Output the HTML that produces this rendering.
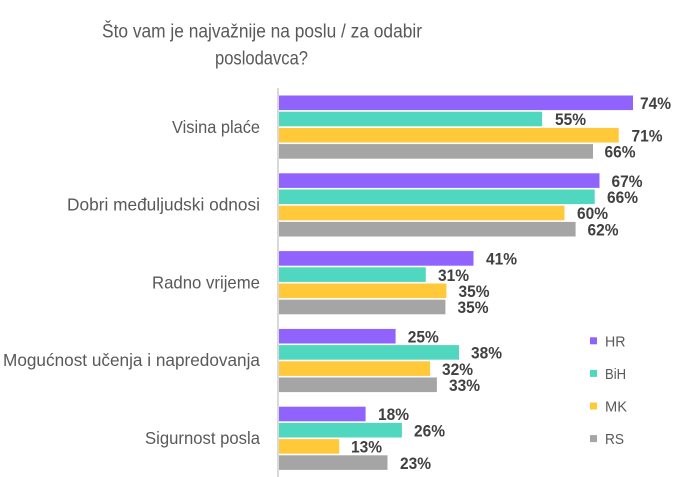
<!DOCTYPE html>
<html>
<head>
<meta charset="utf-8">
<style>
html,body{margin:0;padding:0;background:#fff;}
svg{display:block;}
text{font-family:"Liberation Sans",sans-serif;}
</style>
</head>
<body>
<svg width="677" height="477" viewBox="0 0 677 477" xmlns="http://www.w3.org/2000/svg">
<rect x="0" y="0" width="677" height="477" fill="#fff"/>
<!-- Title -->
<text x="102" y="37.5" font-size="19" fill="#595959" textLength="320" lengthAdjust="spacingAndGlyphs">Što vam je najvažnije na poslu / za odabir</text>
<text x="215" y="64.5" font-size="19" fill="#595959" textLength="93" lengthAdjust="spacingAndGlyphs">poslodavca?</text>

<!-- Axis -->
<rect x="277" y="88" width="2" height="389" fill="#d9d9d9"/>

<!-- Category labels -->
<g font-size="17.5" fill="#595959">
<text x="172" y="132.8" textLength="88" lengthAdjust="spacingAndGlyphs">Visina plaće</text>
<text x="67" y="210.6" textLength="193" lengthAdjust="spacingAndGlyphs">Dobri međuljudski odnosi</text>
<text x="152" y="288.4" textLength="108" lengthAdjust="spacingAndGlyphs">Radno vrijeme</text>
<text x="3" y="366" textLength="257" lengthAdjust="spacingAndGlyphs">Mogućnost učenja i napredovanja</text>
<text x="145" y="444" textLength="115" lengthAdjust="spacingAndGlyphs">Sigurnost posla</text>
</g>

<!-- Bars -->
<g>
<rect x="279" y="95.5" width="354.0" height="14.6" fill="#8f63fc"/>
<rect x="279" y="111.7" width="263.1" height="14.6" fill="#4fd8bf"/>
<rect x="279" y="127.9" width="339.7" height="14.6" fill="#ffc93a"/>
<rect x="279" y="144.1" width="314.0" height="14.6" fill="#a5a5a5"/>

<rect x="279" y="173.3" width="320.5" height="14.6" fill="#8f63fc"/>
<rect x="279" y="189.5" width="315.7" height="14.6" fill="#4fd8bf"/>
<rect x="279" y="205.7" width="285.5" height="14.6" fill="#ffc93a"/>
<rect x="279" y="221.9" width="296.6" height="14.6" fill="#a5a5a5"/>

<rect x="279" y="251.1" width="194.5" height="14.6" fill="#8f63fc"/>
<rect x="279" y="267.3" width="146.8" height="14.6" fill="#4fd8bf"/>
<rect x="279" y="283.5" width="167.4" height="14.6" fill="#ffc93a"/>
<rect x="279" y="299.7" width="166.4" height="14.6" fill="#a5a5a5"/>

<rect x="279" y="328.9" width="116.6" height="14.6" fill="#8f63fc"/>
<rect x="279" y="345.1" width="180.0" height="14.6" fill="#4fd8bf"/>
<rect x="279" y="361.3" width="151.1" height="14.6" fill="#ffc93a"/>
<rect x="279" y="377.5" width="157.9" height="14.6" fill="#a5a5a5"/>

<rect x="279" y="406.7" width="86.6" height="14.6" fill="#8f63fc"/>
<rect x="279" y="422.9" width="122.9" height="14.6" fill="#4fd8bf"/>
<rect x="279" y="439.1" width="60.2" height="14.6" fill="#ffc93a"/>
<rect x="279" y="455.3" width="108.5" height="14.6" fill="#a5a5a5"/>
</g>

<!-- Data labels -->
<g font-size="17" font-weight="bold" fill="#404040">
<text x="640" y="109" textLength="31" lengthAdjust="spacingAndGlyphs">74%</text>
<text x="555" y="125.2" textLength="31" lengthAdjust="spacingAndGlyphs">55%</text>
<text x="631.5" y="141.4" textLength="31" lengthAdjust="spacingAndGlyphs">71%</text>
<text x="604.5" y="157.6" textLength="31" lengthAdjust="spacingAndGlyphs">66%</text>

<text x="611.5" y="186.8" textLength="31" lengthAdjust="spacingAndGlyphs">67%</text>
<text x="607" y="203" textLength="31" lengthAdjust="spacingAndGlyphs">66%</text>
<text x="577" y="219.2" textLength="31" lengthAdjust="spacingAndGlyphs">60%</text>
<text x="587.5" y="235.4" textLength="31" lengthAdjust="spacingAndGlyphs">62%</text>

<text x="486" y="264.6" textLength="31" lengthAdjust="spacingAndGlyphs">41%</text>
<text x="438" y="280.8" textLength="31" lengthAdjust="spacingAndGlyphs">31%</text>
<text x="458.5" y="297" textLength="31" lengthAdjust="spacingAndGlyphs">35%</text>
<text x="457.5" y="313.2" textLength="31" lengthAdjust="spacingAndGlyphs">35%</text>

<text x="407.8" y="342.4" textLength="31" lengthAdjust="spacingAndGlyphs">25%</text>
<text x="471" y="358.6" textLength="31" lengthAdjust="spacingAndGlyphs">38%</text>
<text x="442" y="374.8" textLength="31" lengthAdjust="spacingAndGlyphs">32%</text>
<text x="449" y="391" textLength="31" lengthAdjust="spacingAndGlyphs">33%</text>

<text x="378" y="420.2" textLength="31" lengthAdjust="spacingAndGlyphs">18%</text>
<text x="414" y="436.4" textLength="31" lengthAdjust="spacingAndGlyphs">26%</text>
<text x="351" y="452.6" textLength="31" lengthAdjust="spacingAndGlyphs">13%</text>
<text x="400" y="468.8" textLength="31" lengthAdjust="spacingAndGlyphs">23%</text>
</g>

<!-- Legend -->
<rect x="590" y="337.3" width="7" height="7" fill="#8f63fc"/>
<rect x="590" y="369.9" width="7" height="7" fill="#4fd8bf"/>
<rect x="590" y="402.5" width="7" height="7" fill="#ffc93a"/>
<rect x="590" y="435.1" width="7" height="7" fill="#a5a5a5"/>
<g font-size="15" fill="#595959">
<text x="605" y="346.3" textLength="20.5" lengthAdjust="spacingAndGlyphs">HR</text>
<text x="605" y="378.9" textLength="21" lengthAdjust="spacingAndGlyphs">BiH</text>
<text x="605" y="411.5" textLength="22" lengthAdjust="spacingAndGlyphs">MK</text>
<text x="605" y="444.1" textLength="19" lengthAdjust="spacingAndGlyphs">RS</text>
</g>
</svg>
</body>
</html>
